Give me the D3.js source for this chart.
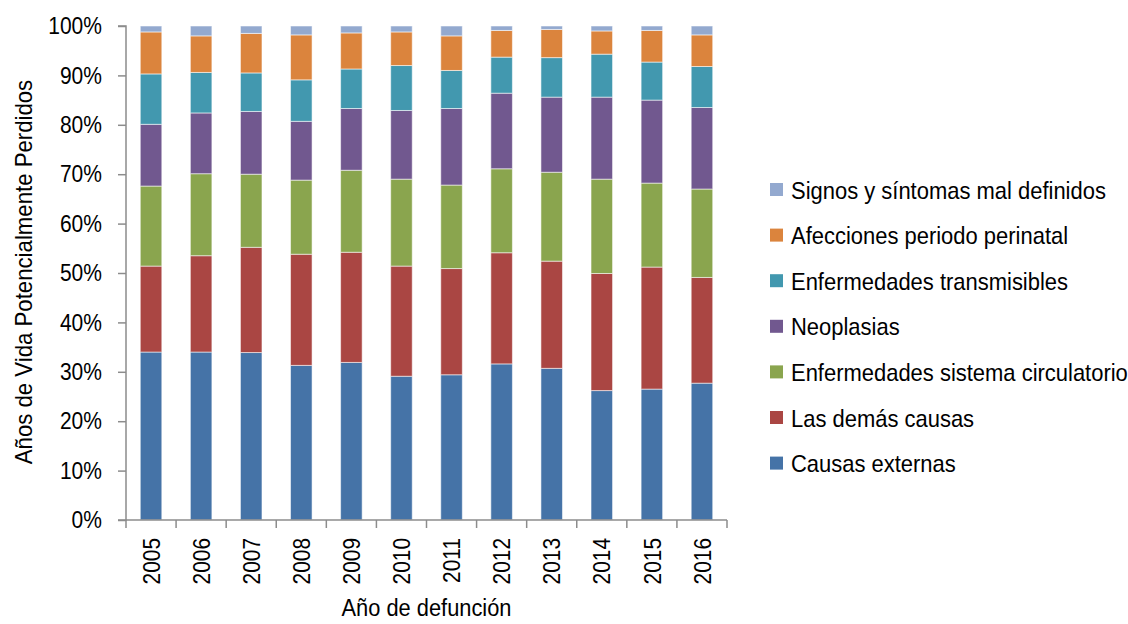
<!DOCTYPE html>
<html>
<head>
<meta charset="utf-8">
<script src="https://cdn.jsdelivr.net/npm/d3@7"></script>
<style>
  html, body { margin: 0; padding: 0; background: #fff; }
  svg { display: block; font-family: "Liberation Sans", Arial, sans-serif; }
</style>
</head>
<body>
<svg id="chart" width="1128" height="624"></svg>
<script>
// Años de defunción
const years = ["2005", "2006", "2007", "2008", "2009", "2010", "2011", "2012", "2013", "2014", "2015", "2016"];

// Grupos de causas, de abajo hacia arriba en la pila
const causes = [
  "Causas externas",
  "Las demás causas",
  "Enfermedades sistema circulatorio",
  "Neoplasias",
  "Enfermedades transmisibles",
  "Afecciones periodo perinatal",
  "Signos y síntomas mal definidos"
];

// Porcentaje de AVPP por grupo y año
const causasExternas     = [34.0, 34.0, 33.9, 31.3, 31.9, 29.1, 29.4, 31.6, 30.7, 26.2, 26.5, 27.7];
const demasCausas        = [17.4, 19.5, 21.3, 22.5, 22.3, 22.3, 21.5, 22.5, 21.7, 23.7, 24.7, 21.4];
const sistemaCirculatorio= [16.2, 16.6, 14.8, 15.0, 16.6, 17.6, 16.9, 17.0, 18.0, 19.1, 17.0, 17.9];
const neoplasias         = [12.5, 12.3, 12.7, 11.9, 12.5, 13.9, 15.5, 15.3, 15.2, 16.6, 16.8, 16.5];
const transmisibles      = [10.2,  8.2,  7.8,  8.4,  8.0,  9.1,  7.7,  7.3,  8.0,  8.7,  7.7,  8.3];
const perinatal          = [ 8.5,  7.4,  8.0,  9.1,  7.3,  6.8,  7.0,  5.4,  5.7,  4.7,  6.4,  6.4];
const malDefinidos       = [ 1.2,  2.0,  1.5,  1.8,  1.4,  1.2,  2.0,  0.9,  0.7,  1.0,  0.9,  1.8];

const yTicks = [0, 10, 20, 30, 40, 50, 60, 70, 80, 90, 100];

const seriesValues = [causasExternas, demasCausas, sistemaCirculatorio, neoplasias, transmisibles, perinatal, malDefinidos];
const colors = ["#4573a7", "#aa4643", "#8aa54e", "#71588f", "#4298af", "#db843d", "#93a9cf"];

// Tabla año -> valores por causa, para d3.stack
const table = years.map((yr, i) => {
  const row = { year: yr };
  causes.forEach((c, k) => { row[c] = seriesValues[k][i]; });
  return row;
});
const stacked = d3.stack().keys(causes)(table);

const svg = d3.select("#chart");
const plotLeft = 126, plotRight = 727, plotTop = 26, plotBottom = 520;
const font = "Liberation Sans, Arial, sans-serif";

const x = d3.scaleBand().domain(years).range([plotLeft, plotRight]).paddingInner(0.57).paddingOuter(0.285);
const y = d3.scaleLinear().domain([0, 100]).range([plotBottom, plotTop]);
const color = d3.scaleOrdinal().domain(causes).range(colors);

// Barras apiladas
svg.append("g")
  .selectAll("g")
  .data(stacked)
  .join("g")
    .attr("fill", d => color(d.key))
  .selectAll("rect")
  .data(d => d)
  .join("rect")
    .attr("x", d => x(d.data.year))
    .attr("width", x.bandwidth())
    .attr("y", d => y(d[1]))
    .attr("height", d => y(d[0]) - y(d[1]))
    .attr("stroke", "rgba(255,255,255,0.55)")
    .attr("stroke-width", 1);

// Eje Y
const yAxis = d3.axisLeft(y)
  .tickValues(yTicks)
  .tickFormat(d => d + "%")
  .tickSize(8)
  .tickPadding(19.5);
const gy = svg.append("g").attr("transform", `translate(${plotLeft},0)`).call(yAxis);
gy.select(".domain").attr("stroke", "#8c8c8c").attr("stroke-width", 1.5).attr("d", `M-8,${plotTop}H0V${plotBottom}H-8`);
gy.selectAll(".tick line").attr("stroke", "#8c8c8c").attr("stroke-width", 1.5);
gy.selectAll(".tick text")
  .attr("font-size", 24)
  .attr("fill", "#000")
  .attr("font-family", font)
  .attr("transform", "scale(0.875,1)");

// Eje X: etiquetas de año giradas y marcas entre categorías
const xAxis = d3.axisBottom(x).tickSize(0).tickPadding(0);
const gx = svg.append("g").attr("transform", `translate(0,${plotBottom})`).call(xAxis);
gx.select(".domain").attr("stroke", "#8c8c8c").attr("stroke-width", 1.5).attr("d", `M${plotLeft},0H${plotRight}`);
gx.selectAll(".tick text")
  .attr("font-size", 24)
  .attr("fill", "#000")
  .attr("font-family", font)
  .attr("text-anchor", "end")
  .attr("dy", "0.36em")
  .attr("transform", "translate(0,18) rotate(-90) scale(0.87,1)");

const step = x.step();
const boundaries = d3.range(years.length + 1).map(i => x(years[0]) - x.paddingOuter() * step + i * step);
gx.selectAll(".sep")
  .data(boundaries)
  .join("line")
    .attr("class", "sep")
    .attr("x1", d => d).attr("x2", d => d)
    .attr("y1", 0).attr("y2", 8)
    .attr("stroke", "#8c8c8c").attr("stroke-width", 1.5);

// Títulos de ejes
svg.append("text")
  .attr("transform", `translate(${(plotLeft + plotRight) / 2},616) scale(0.91,1)`)
  .attr("text-anchor", "middle")
  .attr("font-size", 24)
  .text("Año de defunción");

svg.append("text")
  .attr("transform", `translate(32,${(plotTop + plotBottom) / 2 - 1}) rotate(-90) scale(0.965,1)`)
  .attr("text-anchor", "middle")
  .attr("font-size", 23)
  .text("Años de Vida Potencialmente Perdidos");

// Leyenda (orden inverso a la pila)
const legendItems = causes.slice().reverse();
const legend = svg.append("g").attr("transform", "translate(770,190)");
const li = legend.selectAll("g")
  .data(legendItems)
  .join("g")
    .attr("transform", (d, i) => `translate(0,${i * 45.6})`);
li.append("rect")
  .attr("x", 0).attr("y", -7)
  .attr("width", 13).attr("height", 13)
  .attr("fill", d => color(d));
li.append("text")
  .attr("transform", "translate(21,8.5) scale(0.915,1)")
  .attr("font-size", 24)
  .attr("fill", "#000")
  .text(d => d);
</script>
</body>
</html>
